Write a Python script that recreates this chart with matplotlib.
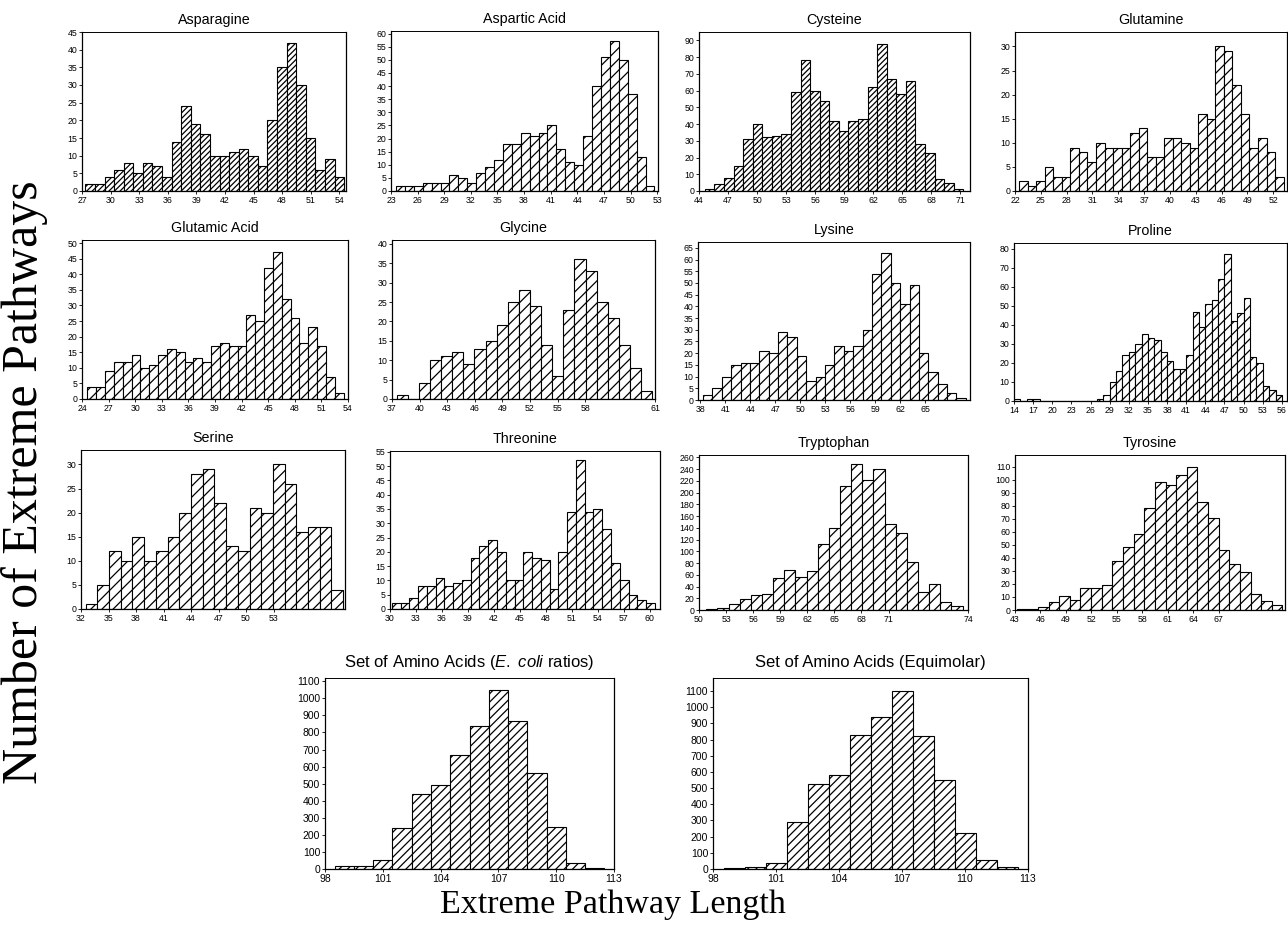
import matplotlib
matplotlib.use('Agg')
import matplotlib.pyplot as plt
import numpy as np

plt.rcParams['font.family'] = ['Liberation Sans', 'DejaVu Sans']
plt.rcParams['mathtext.fontset'] = 'custom'
plt.rcParams['mathtext.rm'] = 'Liberation Sans'
plt.rcParams['mathtext.it'] = 'Liberation Sans:italic'
plt.rcParams['hatch.linewidth'] = 0.9

# ---------------- data ----------------
titles = ['Asparagine', 'Aspartic Acid', 'Cysteine', 'Glutamine',
          'Glutamic Acid', 'Glycine', 'Lysine', 'Proline',
          'Serine', 'Threonine', 'Tryptophan', 'Tyrosine',
          'Set of Amino Acids ($\\it{E.\\ coli}$ ratios)',
          'Set of Amino Acids (Equimolar)']

asparagine_counts = [2, 2, 4, 6, 8, 5, 8, 7, 4, 14, 24, 19, 16, 10, 10, 11, 12, 10, 7,
                     20, 35, 42, 30, 15, 6, 9, 4]
aspartic_counts = [2, 2, 2, 3, 3, 3, 6, 5, 3, 7, 9, 12, 18, 18, 22, 21, 22, 25, 16, 11,
                   10, 21, 40, 51, 57, 50, 37, 13, 2]
cysteine_counts = [1, 4, 8, 15, 31, 40, 32, 33, 34, 59, 78, 60, 54, 42, 36, 42, 43, 62,
                   88, 67, 58, 66, 28, 23, 7, 5, 1]
glutamine_counts = [2, 1, 2, 5, 3, 3, 9, 8, 6, 10, 9, 9, 9, 12, 13, 7, 7, 11, 11, 10, 9,
                    16, 15, 30, 29, 22, 16, 9, 11, 8, 3]
glutamic_counts = [4, 4, 9, 12, 12, 14, 10, 11, 14, 16, 15, 12, 13, 12, 17, 18, 17, 17,
                   27, 25, 42, 47, 32, 26, 18, 23, 17, 7, 2]
glycine_counts = [1, 0, 4, 10, 11, 12, 9, 13, 15, 19, 25, 28, 24, 14, 6, 23, 36, 33, 25,
                  21, 14, 8, 2]
lysine_counts = [2, 5, 10, 15, 16, 16, 21, 20, 29, 27, 19, 8, 10, 15, 23, 21, 23, 30, 54,
                 63, 50, 41, 49, 20, 12, 7, 3, 1]
proline_counts = [1, 0, 1, 1, 0, 0, 0, 0, 0, 0, 0, 0, 0, 1, 3, 10, 16, 24, 26, 30, 35, 33,
                  32, 26, 21, 17, 17, 24, 47, 39, 51, 53, 64, 77, 42, 46, 54, 23, 20, 8,
                  6, 3]
serine_counts = [1, 5, 12, 10, 15, 10, 12, 15, 20, 28, 29, 22, 13, 12, 21, 20, 30, 26,
                 16, 17, 17, 4]
threonine_counts = [2, 2, 4, 8, 8, 11, 8, 9, 10, 18, 22, 24, 20, 10, 10, 20, 18, 17, 7,
                    20, 34, 52, 34, 35, 28, 16, 10, 5, 3, 2]
tryptophan_counts = [1, 4, 10, 18, 26, 27, 54, 68, 56, 66, 113, 139, 211, 248, 222, 241,
                     147, 131, 82, 31, 45, 14, 7]
tyrosine_counts = [1, 1, 2, 6, 11, 8, 17, 17, 19, 38, 48, 58, 78, 98, 96, 104, 110, 83,
                   71, 46, 35, 29, 12, 7, 4]
ecoli_counts = [15, 20, 50, 240, 440, 490, 670, 840, 1050, 865, 560, 245, 35, 8]
equimolar_counts = [8, 15, 40, 290, 525, 580, 830, 940, 1100, 820, 550, 225, 55, 10]

# first and last bin edge of each histogram (x units)
bin_ranges = [(27.35, 54.5), (23.56, 52.7), (44.6, 71.3), (22.5, 53.2),
              (24.6, 53.5), (37.5, 65.3), (38.3, 69.9), (14.0, 56.0),
              (32.5, 60.6), (30.2, 60.6), (50.8, 79.2), (43.2, 74.5),
              (98.5, 112.5), (98.5, 112.5)]

asparagine_ticks = [27, 30, 33, 36, 39, 42, 45, 48, 51, 54]
aspartic_ticks = [23, 26, 29, 32, 35, 38, 41, 44, 47, 50, 53]
cysteine_ticks = [44, 47, 50, 53, 56, 59, 62, 65, 68, 71]
glutamine_ticks = [22, 25, 28, 31, 34, 37, 40, 43, 46, 49, 52]
glutamic_ticks = [24, 27, 30, 33, 36, 39, 42, 45, 48, 51, 54]
glycine_ticks = [37, 40, 43, 46, 49, 52, 55, 58, 61]
lysine_ticks = [38, 41, 44, 47, 50, 53, 56, 59, 62, 65]
proline_ticks = [14, 17, 20, 23, 26, 29, 32, 35, 38, 41, 44, 47, 50, 53, 56]
serine_ticks = [32, 35, 38, 41, 44, 47, 50, 53]
threonine_ticks = [30, 33, 36, 39, 42, 45, 48, 51, 54, 57, 60]
tryptophan_ticks = [50, 53, 56, 59, 62, 65, 68, 71, 74]
tyrosine_ticks = [43, 46, 49, 52, 55, 58, 61, 64, 67]
ecoli_ticks = [98, 101, 104, 107, 110, 113]
equimolar_ticks = [98, 101, 104, 107, 110, 113]

y_maxima = [45, 60, 90, 30, 50, 40, 65, 80, 30, 55, 260, 110, 1100, 1100]
y_steps = [5, 5, 10, 5, 5, 5, 5, 10, 5, 5, 20, 10, 100, 100]

# ---------------- layout ----------------
W, H = 1288, 930
xlims = [(27, 54.7), (23, 53.1), (44, 72.0), (22, 53.6),
         (24.2, 54.0), (37, 65.6), (37.7, 70.4), (14, 56.8),
         (32, 60.8), (30, 61.2), (50.3, 79.8), (43, 74.8),
         (98, 113), (98, 113)]
ytops = [45, 61, 95, 33, 51, 41, 67.5, 83, 33, 55.3, 264, 119, 1119, 1180]
edge_last_tick = [False, False, False, False, True, True, False, False,
                  False, False, True, False, False, False]
rects = [(82, 346, 32, 191), (391, 658, 31, 191), (699, 970, 32, 191), (1015, 1287, 32, 191),
         (82, 348, 240, 399), (392, 655, 240, 399), (698, 970, 242, 400), (1014, 1287, 243, 401),
         (81, 345, 450, 609), (390, 660, 451, 609), (699, 968, 455, 610), (1015, 1285, 455, 610),
         (325, 614, 678, 869), (713, 1028, 678, 869)]
hatches = ['//////', '///', '//////', '///', '///', '///', '///', '///',
           '///', '///', '///', '///', '////', '////']

all_counts = [asparagine_counts, aspartic_counts, cysteine_counts, glutamine_counts,
              glutamic_counts, glycine_counts, lysine_counts, proline_counts,
              serine_counts, threonine_counts, tryptophan_counts, tyrosine_counts,
              ecoli_counts, equimolar_counts]
all_ticks = [asparagine_ticks, aspartic_ticks, cysteine_ticks, glutamine_ticks,
             glutamic_ticks, glycine_ticks, lysine_ticks, proline_ticks,
             serine_ticks, threonine_ticks, tryptophan_ticks, tyrosine_ticks,
             ecoli_ticks, equimolar_ticks]

fig = plt.figure(figsize=(W / 100, H / 100), dpi=100)

for i in range(14):
    l, r, t, b = rects[i]
    ax = fig.add_axes([l / W, 1 - b / H, (r - l) / W, (b - t) / H])
    counts = np.array(all_counts[i], dtype=float)
    b0, b1 = bin_ranges[i]
    edges = np.linspace(b0, b1, len(counts) + 1)
    widths = np.diff(edges)
    ax.bar(edges[:-1], counts, width=widths, align='edge', color='white',
           edgecolor='black', linewidth=0.8, hatch=hatches[i])
    ax.set_xlim(*xlims[i])
    ax.set_ylim(0, ytops[i])
    ticks = list(all_ticks[i])
    pos = [float(v) for v in ticks]
    if edge_last_tick[i]:
        pos[-1] = xlims[i][1]
    ax.set_xticks(pos)
    ax.set_xticklabels([str(v) for v in ticks])
    ax.set_yticks(np.arange(0, y_maxima[i] + 1, y_steps[i]))
    big = i >= 12
    ax.tick_params(labelsize=7.5 if big else 6.3, length=2, width=0.6, pad=1.5)
    for s in ax.spines.values():
        s.set_linewidth(0.9)
    ax.spines['top'].set_linewidth(0.7)
    ax.set_title(titles[i], fontsize=12 if big else 10.3, pad=8 if big else 6)

fig.text(0.019, 0.482, 'Number of Extreme Pathways', rotation=90,
         family=['Liberation Serif', 'DejaVu Serif'], fontsize=36,
         ha='center', va='center')
fig.text(0.476, 0.027, 'Extreme Pathway Length',
         family=['Liberation Serif', 'DejaVu Serif'], fontsize=24.5,
         ha='center', va='center')

fig.savefig('out.png', dpi=100)
